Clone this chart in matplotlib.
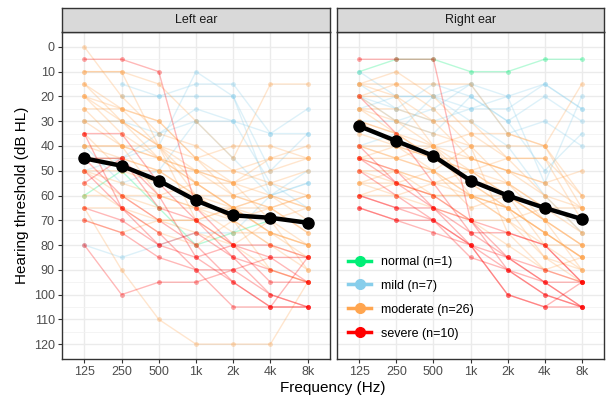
import matplotlib
matplotlib.use("Agg")
import matplotlib.pyplot as plt
from matplotlib.lines import Line2D
import numpy as np

plt.rcParams['font.family'] = ['Liberation Sans', 'DejaVu Sans']

nan = np.nan
freqs = ['125', '250', '500', '1k', '2k', '4k', '8k']
groups = ['normal', 'mild', 'moderate', 'severe']
group_labels = ['normal (n=1)', 'mild (n=7)', 'moderate (n=26)', 'severe (n=10)']
group_colors = {'normal': '#00EE76', 'mild': '#87CEEB',
                'moderate': '#FFA54F', 'severe': '#FF0000'}

# per-subject thresholds (dB HL) at 125..8k (approx.)
subj_group = (['normal'] + ['mild'] * 7 + ['moderate'] * 26 + ['severe'] * 10)

left_ear = [
    [60, 50, 65, 80, 75, 70, 70],
    # mild
    [nan, 15, 20, 15, 15, 35, 25],
    [nan, 20, 20, 20, 20, 50, 35],
    [30, 30, 35, 25, 30, 35, 35],
    [40, 55, 50, 30, 45, 60, 55],
    [80, 85, 80, 75, 75, 60, 50],
    [45, 45, 40, 10, 20, 60, 55],
    [50, 45, 35, 30, 30, 55, 65],
    # moderate
    [0, 20, 35, 40, 50, 55, 60],
    [10, 10, 15, 30, 45, 15, 15],
    [15, 25, 30, 45, 60, 65, 75],
    [20, 25, 40, 55, 65, 75, 85],
    [25, 25, 30, 45, 55, 50, 45],
    [30, 40, 45, 50, 60, 65, 60],
    [40, 40, 40, 50, 55, 60, 65],
    [50, 50, 50, 60, 65, 75, 80],
    [50, 60, 70, 70, 65, 65, 75],
    [65, 65, 75, 80, 70, 65, 60],
    [20, 35, 45, 55, 65, 70, 90],
    [40, 45, 50, 60, 70, 80, 90],
    [15, 30, 40, 60, 70, 90, 95],
    [25, 40, 60, 65, 75, 75, 80],
    [nan, 60, 60, 65, 70, 80, 85],
    [50, 55, 60, 55, 55, 45, 40],
    [35, 50, 55, 60, 60, 55, 50],
    [45, 45, 50, 50, 50, 45, 45],
    [65, 90, 110, 120, 120, 120, 95],
    [30, 30, 40, 45, 40, 40, 45],
    [55, 65, 70, 75, 80, 90, 95],
    [10, 10, 40, 70, 80, 70, 65],
    [70, 75, 70, 70, 65, 60, 70],
    [60, 60, 65, 65, 65, 60, 65],
    [20, 30, 45, 50, 55, 70, 80],
    [40, 40, 45, 55, 65, 75, 80],
    # severe
    [5, 5, 10, 65, 80, 85, 85],
    [35, 35, 55, 70, 85, 100, 105],
    [45, 45, 60, 85, 95, 105, 105],
    [55, 45, 65, 70, 80, 80, 85],
    [80, 100, 95, 95, 90, 85, 95],
    [35, 65, 75, 90, 105, 105, 105],
    [50, 65, 80, 85, 80, 95, 95],
    [45, 60, 70, 80, 95, 105, 85],
    [65, 70, 80, 75, 85, 90, 95],
    [70, 75, 85, 90, 90, 100, 105],
]

right_ear = [
    [10, 5, 5, 10, 10, 5, 5],
    # mild
    [10, 20, 20, 15, 20, 15, 25],
    [15, 25, 15, 20, 30, 20, 30],
    [20, 30, 25, 15, 35, 30, 40],
    [25, 20, 20, 25, 20, 55, 20],
    [30, 30, 35, 20, 30, 50, 35],
    [20, 25, 30, 25, 25, 15, 25],
    [40, 35, 20, 30, 40, 60, 75],
    # moderate
    [15, 10, 20, 35, 45, 60, 65],
    [15, 15, 15, 15, 35, 40, 15],
    [20, 30, 35, 40, 55, 70, 80],
    [25, 35, 45, 55, 65, 75, 85],
    [25, 25, 30, 30, 45, 45, 60],
    [30, 40, 45, 50, 55, 65, 70],
    [40, 40, 40, 45, 50, 55, 65],
    [40, 45, 50, 60, 65, 75, 85],
    [50, 50, 55, 60, 70, 80, 90],
    [55, 55, 50, 65, 60, 70, 90],
    [25, 30, 40, 55, 65, 85, 95],
    [45, 45, 50, 60, 70, 85, 90],
    [20, 15, 25, 40, 75, 90, 85],
    [30, 35, 45, 50, 60, 70, 80],
    [55, 60, 65, 70, 70, 65, 75],
    [40, 45, 40, 35, 35, 40, 60],
    [35, 40, 45, 45, 50, 55, 50],
    [45, 50, 55, 55, 55, 65, 65],
    [55, 50, 60, 60, 65, 75, 85],
    [60, 55, 60, 60, 60, 70, 80],
    [50, 55, 60, 70, 80, 90, 95],
    [20, 20, 40, 60, 65, 75, 85],
    [60, 60, 55, 50, 45, 45, 70],
    [45, 40, 50, 40, 40, 40, 65],
    [15, 20, 30, 45, 50, 60, 75],
    [30, 35, 40, 50, 60, 80, 80],
    # severe
    [5, 5, 5, 70, 90, 100, 105],
    [20, 35, 55, 75, 85, 95, 105],
    [45, 50, 65, 80, 100, 105, 95],
    [45, 55, 60, 70, 75, 80, 95],
    [65, 70, 75, 80, 85, 90, 95],
    [65, 70, 70, 80, 100, 105, 105],
    [50, 60, 70, 85, 90, 95, 105],
    [40, 55, 65, 75, 75, 80, 95],
    [60, 65, 65, 70, 85, 95, 95],
    [60, 65, 70, 80, 90, 100, 105],
]

# group means as drawn (black line)
left_mean = [45, 48, 54, 62, 68, 69, 71]
right_mean = [32, 38, 44, 54, 60, 65, 69.5]

W, H = 606, 398
fig = plt.figure(figsize=(W / 100, H / 100), dpi=100)

panels = [('Left ear', left_ear, left_mean, 62, 330),
          ('Right ear', right_ear, right_mean, 337, 604)]
top, bottom = 32, 359
strip_top = 8

x = np.arange(len(freqs))
axes = []
for title, data, mean, x0, x1 in panels:
    ax = fig.add_axes([x0 / W, 1 - bottom / H, (x1 - x0) / W, (bottom - top) / H])
    axes.append(ax)
    ax.set_xlim(-0.6, 6.6)
    ax.set_ylim(126, -6)
    ax.set_yticks(np.arange(0, 121, 10))
    ax.set_yticks(np.arange(5, 121, 10), minor=True)
    ax.set_xticks(x)
    ax.set_xticklabels(freqs)
    ax.grid(True, which='major', color='#EBEBEB', lw=1.0, zorder=0)
    ax.grid(True, which='minor', axis='y', color='#F2F2F2', lw=0.6, zorder=0)
    ax.set_axisbelow(True)
    for s in ax.spines.values():
        s.set_color('#333333')
        s.set_linewidth(1.0)
    ax.tick_params(which='major', length=3, color='#333333', labelsize=9,
                   labelcolor='#4D4D4D', width=0.8, pad=2.2)
    ax.tick_params(which='minor', length=0)

    for g, row in zip(subj_group, data):
        c = group_colors[g]
        ax.plot(x, row, color=c, alpha=0.28, lw=1.0, zorder=2)
        ax.plot(x, row, 'o', color=c, alpha=0.35, ms=3.5, mew=0, zorder=2)
    ax.plot(x, mean, color='black', lw=3.2, marker='o', ms=8, zorder=5)

    sax = fig.add_axes([x0 / W, 1 - top / H, (x1 - x0) / W, (top - strip_top) / H])
    sax.set_facecolor('#D9D9D9')
    sax.set_xticks([])
    sax.set_yticks([])
    for s in sax.spines.values():
        s.set_color('#333333')
        s.set_linewidth(1.0)
    sax.text(0.5, 0.48, title, ha='center', va='center', fontsize=9,
             color='#1A1A1A', transform=sax.transAxes)

axes[1].tick_params(labelleft=False, left=False)

handles = [Line2D([0], [0], color=group_colors[g], lw=2.5, marker='o', ms=7)
           for g in groups]
axes[1].legend(handles, group_labels, loc='lower left',
               bbox_to_anchor=(0.0, 0.025), frameon=False, fontsize=9,
               handlelength=1.8, handletextpad=0.8, labelspacing=0.95)

fig.text(22 / W, 1 - 195 / H, 'Hearing threshold (dB HL)', rotation=90,
         ha='center', va='center', fontsize=11, color='black')
fig.text(333 / W, 1 - 388 / H, 'Frequency (Hz)', ha='center', va='center',
         fontsize=11, color='black')

fig.savefig('out.png', dpi=100)
